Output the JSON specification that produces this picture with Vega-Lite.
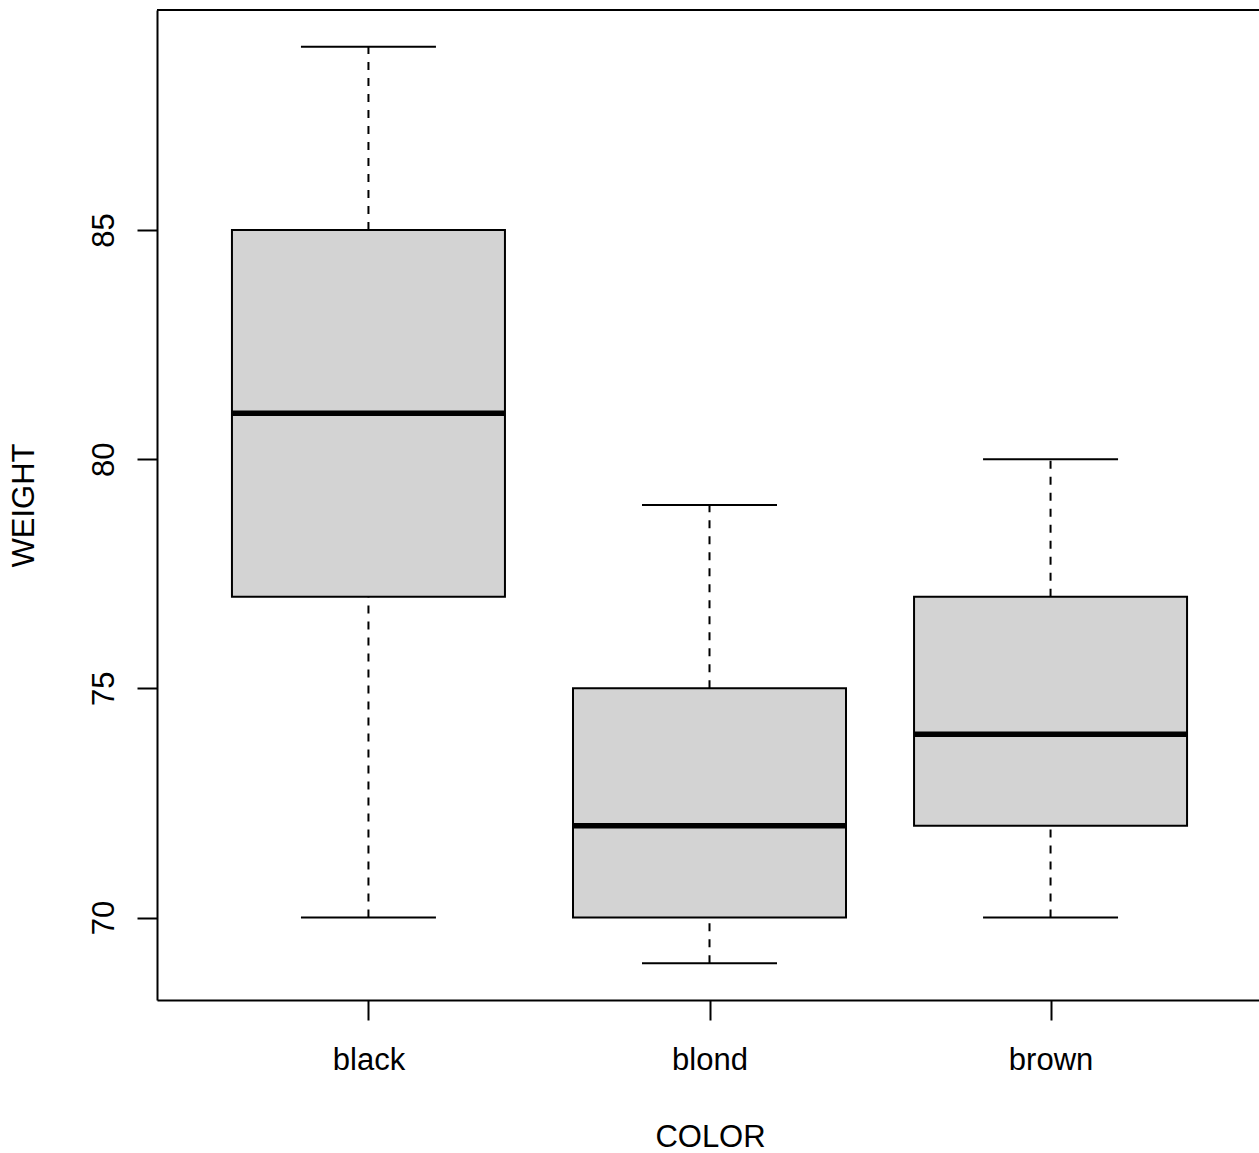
{
  "$schema": "https://vega.github.io/schema/vega-lite/v6.json",
  "autosize": {"type": "none"},
  "padding": {"left": 157, "top": 10, "right": 0, "bottom": 153},
  "width": 1102,
  "height": 990,
  "background": "white",
  "config": {
    "view": {"stroke": null},
    "axis": {
      "labelFont": "Liberation Sans",
      "titleFont": "Liberation Sans",
      "labelFontSize": 31,
      "titleFontSize": 31,
      "titleFontWeight": "normal",
      "labelColor": "black",
      "titleColor": "black",
      "tickColor": "black",
      "tickWidth": 2,
      "tickSize": 20,
      "domain": true,
      "domainColor": "black",
      "domainWidth": 2,
      "grid": false
    }
  },
  "data": {
    "values": [
      {"COLOR": "black", "min": 70, "q1": 77, "median": 81, "q3": 85, "max": 89},
      {"COLOR": "blond", "min": 69, "q1": 70, "median": 72, "q3": 75, "max": 79},
      {"COLOR": "brown", "min": 70, "q1": 72, "median": 74, "q3": 77, "max": 80}
    ]
  },
  "layer": [
    {
      "mark": {"type": "rule", "strokeDash": [8, 8], "strokeWidth": 2, "color": "black"},
      "encoding": {
        "x": {
          "field": "COLOR",
          "type": "nominal",
          "scale": {"type": "point", "padding": 0.62, "range": [0, 1105]},
          "axis": {
            "title": "COLOR",
            "labelAngle": 0,
            "labelBaseline": "alphabetic",
            "labelPadding": 49,
            "titleX": 553,
            "titleY": 146.5,
            "titleBaseline": "alphabetic",
            "titleAlign": "center"
          }
        },
        "y": {"field": "q3", "type": "quantitative", "scale": {"domain": [68.2, 89.8], "nice": false, "zero": false},
          "axis": {
            "title": "WEIGHT",
            "values": [70, 75, 80, 85],
            "labelAngle": 270,
            "labelAlign": "center",
            "labelBaseline": "alphabetic",
            "labelPadding": 24,
            "titleAngle": 270,
            "titleX": -123.7,
            "titleY": 495,
            "titleAlign": "center",
            "titleBaseline": "alphabetic"
          }
        },
        "y2": {"field": "max"}
      }
    },
    {
      "mark": {"type": "rule", "strokeDash": [8, 8], "strokeWidth": 2, "color": "black"},
      "encoding": {
        "x": {"field": "COLOR", "type": "nominal"},
        "y": {"field": "min", "type": "quantitative"},
        "y2": {"field": "q1"}
      }
    },
    {
      "mark": {"type": "tick", "size": 135, "thickness": 2, "color": "black", "opacity": 1, "orient": "horizontal"},
      "encoding": {
        "x": {"field": "COLOR", "type": "nominal"},
        "y": {"field": "max", "type": "quantitative"}
      }
    },
    {
      "mark": {"type": "tick", "size": 135, "thickness": 2, "color": "black", "opacity": 1, "orient": "horizontal"},
      "encoding": {
        "x": {"field": "COLOR", "type": "nominal"},
        "y": {"field": "min", "type": "quantitative"}
      }
    },
    {
      "mark": {"type": "bar", "width": 273, "fill": "#D3D3D3", "stroke": "black", "strokeWidth": 2, "opacity": 1},
      "encoding": {
        "x": {"field": "COLOR", "type": "nominal"},
        "y": {"field": "q1", "type": "quantitative"},
        "y2": {"field": "q3"}
      }
    },
    {
      "mark": {"type": "tick", "size": 273, "thickness": 5.5, "color": "black", "opacity": 1, "orient": "horizontal"},
      "encoding": {
        "x": {"field": "COLOR", "type": "nominal"},
        "y": {"field": "median", "type": "quantitative"}
      }
    },
    {
      "data": {"values": [{"top": 89.8}]},
      "mark": {"type": "rule", "strokeWidth": 2, "color": "black"},
      "encoding": {"y": {"field": "top", "type": "quantitative"}}
    }
  ]
}
